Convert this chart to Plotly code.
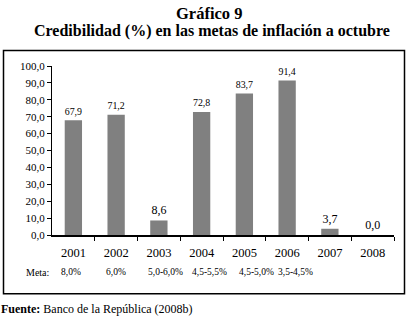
import plotly.graph_objects as go

years = ["2001", "2002", "2003", "2004", "2005", "2006", "2007", "2008"]
credibilidad = [67.9, 71.2, 8.6, 72.8, 83.7, 91.4, 3.7, 0.0]
metas = ["8,0%", "6,0%", "5,0-6,0%", "4,5-5,5%", "4,5-5,0%", "3,5-4,5%", "", ""]
y_ticks = [0, 10, 20, 30, 40, 50, 60, 70, 80, 90, 100]

serif = "Liberation Serif"
idx = list(range(len(years)))
meta_shift = [-2, 0, 7, 8, 12, 8, 0, 0]  # pixel offsets of the Meta labels

# layout geometry (pixels)
W, H = 410, 318
L, R, T, B = 52, 16, 65.5, 82.5
PH = H - T - B
PW = W - L - R


def py(pix):
    return (H - B - pix) / PH


def px(pix):
    return (pix - L) / PW


fig = go.Figure()
fig.add_trace(go.Bar(
    x=idx, y=credibilidad,
    marker=dict(color="#808080", line=dict(width=0)),
    text=[f"{v:.1f}".replace(".", ",") for v in credibilidad],
    textposition="outside",
    textfont=dict(family=serif, size=12, color="black"),
    cliponaxis=False,
    width=0.405,
))

fig.update_layout(
    width=W, height=H,
    margin=dict(l=L, r=R, t=T, b=B),
    paper_bgcolor="white", plot_bgcolor="white",
    showlegend=False,
    font=dict(family=serif, color="black"),
)
fig.update_yaxes(
    range=[0, 100], tickvals=y_ticks,
    ticktext=[f"{v:.1f}".replace(".", ",") for v in y_ticks],
    showgrid=False, zeroline=False,
    showline=True, linecolor="black", linewidth=1,
    ticks="outside", ticklen=4, tickcolor="black",
    tickfont=dict(family=serif, size=11), fixedrange=True,
)
fig.update_xaxes(
    type="linear", range=[-0.5, len(years) - 0.5],
    tickvals=idx, ticktext=years, tickangle=0,
    showgrid=False, zeroline=False,
    showline=True, linecolor="black", linewidth=2,
    ticks="", ticklabelstandoff=5,
    tickfont=dict(family=serif, size=12.5), fixedrange=True,
    minor=dict(tickvals=[i + 0.5 for i in idx], ticks="outside", ticklen=4,
               tickcolor="black", showgrid=False),
)

# frame
fig.add_shape(type="rect", xref="paper", yref="paper",
              x0=px(3.5), x1=px(404.5), y0=py(294.5), y1=py(50),
              line=dict(color="black", width=1.5), fillcolor="rgba(0,0,0,0)")

# titles
fig.add_annotation(text="<b>Gráfico 9</b>", xref="paper", yref="paper",
                   x=px(209), y=py(12.5), showarrow=False,
                   font=dict(family=serif, size=16.5), xanchor="center", yanchor="middle")
fig.add_annotation(text="<b>Credibilidad (%) en las metas de inflación a octubre</b>",
                   xref="paper", yref="paper",
                   x=px(211.5), y=py(30.5), showarrow=False,
                   font=dict(family=serif, size=16), xanchor="center", yanchor="middle")

# Meta row
fig.add_annotation(text="Meta:", xref="paper", yref="paper",
                   x=px(24), y=py(273), showarrow=False,
                   font=dict(family=serif, size=10), xanchor="left", yanchor="middle")
for i, m in enumerate(metas):
    if m:
        fig.add_annotation(text=m, x=i, xref="x", yref="paper",
                           y=py(273), showarrow=False, xshift=meta_shift[i],
                           font=dict(family=serif, size=9.5), xanchor="center", yanchor="middle")

# source
fig.add_annotation(text="<b>Fuente:</b> Banco de la República (2008b)",
                   xref="paper", yref="paper",
                   x=px(-1), y=py(310), showarrow=False,
                   font=dict(family=serif, size=12), xanchor="left", yanchor="middle")

fig.write_html("out.html", config={"displayModeBar": False},
               post_script="document.body.style.margin='0';")
